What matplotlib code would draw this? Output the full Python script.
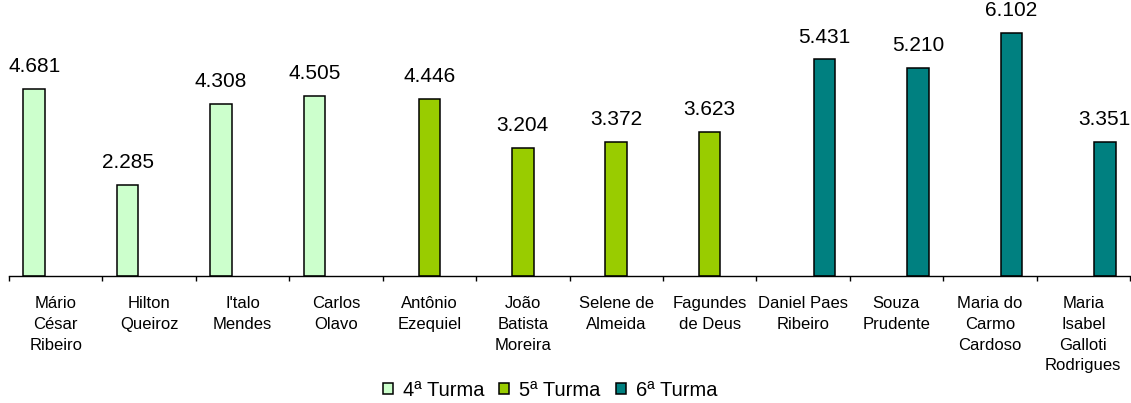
import numpy as np
import matplotlib
matplotlib.use("Agg")
import matplotlib.pyplot as plt

plt.rcParams['font.family'] = ['Liberation Sans', 'DejaVu Sans']

alunos = ["Mário\nCésar\nRibeiro", "Hilton\nQueiroz", "I'talo\nMendes", "Carlos\nOlavo",
          "Antônio\nEzequiel", "João\nBatista\nMoreira", "Selene de\nAlmeida", "Fagundes\nde Deus",
          "Daniel Paes\nRibeiro", "Souza\nPrudente", "Maria do\nCarmo\nCardoso",
          "Maria\nIsabel\nGalloti\nRodrigues"]
notas = [4.681, 2.285, 4.308, 4.505,
         4.446, 3.204, 3.372, 3.623,
         5.431, 5.210, 6.102, 3.351]
turma = [0, 0, 0, 0, 1, 1, 1, 1, 2, 2, 2, 2]
turmas = ["4ª Turma", "5ª Turma", "6ª Turma"]
cores = ["#CCFFCC", "#99CC00", "#008080"]

fig = plt.figure(figsize=(11.31, 4.03), dpi=100)
ax = fig.add_axes([9 / 1131, 127 / 403, 1121 / 1131, 275.1 / 403])

x = np.arange(len(alunos))
w = 0.23
notas = np.array(notas)
turma = np.array(turma)

# uma serie por turma, deslocada dentro do grupo
for k, nome in enumerate(turmas):
    sel = turma == k
    pos = x[sel] + (k - 1) * w
    ax.bar(pos, notas[sel], width=w, color=cores[k], edgecolor="black",
           linewidth=1.1, label=nome)
    for xi, v in zip(pos, notas[sel]):
        ax.annotate("%.3f" % v, (xi, v), xytext=(0, 12.2), textcoords="offset points",
                    ha="center", va="baseline", fontsize=15)

ax.set_xlim(-0.5, len(alunos) - 0.5)
ax.set_ylim(0, 6.9)

for lado in ["top", "right", "left"]:
    ax.spines[lado].set_visible(False)
ax.spines["bottom"].set_linewidth(1.0)
ax.set_yticks([])

ax.set_xticks(x)
ax.set_xticklabels(alunos, fontsize=12, linespacing=1.48)
ax.set_xticks(np.arange(len(alunos) + 1) - 0.5, minor=True)
ax.tick_params(axis="x", which="major", length=0, pad=14.5)
ax.tick_params(axis="x", which="minor", length=3.5, width=1.0, direction="out")

fig.legend(loc="center", bbox_to_anchor=(550 / 1131, 0.032), ncol=3, frameon=False,
           fontsize=14.5, handlelength=0.5, handleheight=0.5, handletextpad=0.5,
           columnspacing=0.75, borderpad=0)

fig.savefig("out.png", dpi=100)
